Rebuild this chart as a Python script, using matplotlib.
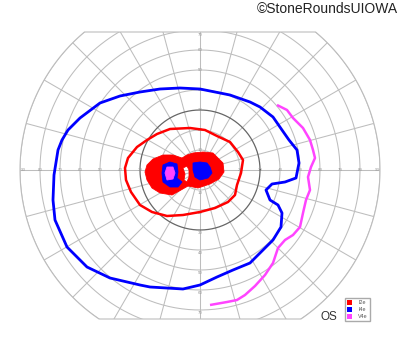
import numpy as np
import matplotlib.pyplot as plt
from matplotlib.patches import Polygon, PathPatch, Patch
from matplotlib.path import Path

plt.rcParams["font.family"] = ["Liberation Sans", "DejaVu Sans"]

# field limits of the chart (degrees)
TOP = 69.0
BOTTOM = -74.5

# I4e isopter (blue), degrees
i4e_x = [0, 15, 25, 30, 36.5, 41, 44.5, 48.5, 49.5, 48, 42.5, 36, 33, 35, 39, 41, 40.5,
         36.5, 30, 25, 16.5, 8.5, 0, -8.5, -25, -30, -45, -56.5, -66.5, -72.5, -73.5,
         -73, -71, -69, -66, -60, -50, -40, -30, -20, -10]
i4e_y = [40.5, 37.5, 34, 31.5, 26.5, 20, 15, 10, 3.5, -4, -6, -7, -10, -15, -17.5, -21.5,
         -28.5, -35, -41.5, -46.5, -50, -53.5, -57.5, -59.5, -58.5, -57.5, -54, -48.5,
         -38.5, -25, -15, -2.5, 10, 15, 20, 26, 33.5, 37, 39, 40.5, 41]

# V4e isopter (magenta), open line
v4e_x = [38.5, 43.5, 46.5, 51.5, 55, 56.5, 57.5, 55.5, 54, 55, 53, 51.5, 50, 46.5, 42.5,
         39, 36.5, 32.5, 27.5, 22.5, 18.5, 13.5, 5]
v4e_y = [32.5, 30, 26, 21, 15, 10, 6, 1.5, -3.5, -10, -15, -21.5, -28.5, -32.5, -35,
         -39, -46.5, -52.5, -58, -62.5, -65, -66, -67.5]

# I2e isopter (red)
i2e_x = [-37.5, -36, -31.5, -26.5, -21.5, -15, -5, 2.5, 8.5, 15, 19, 21.5, 20.5, 18.5,
         17.5, 14, 7.5, 0, -8.5, -16.5, -24, -30, -34.5, -37]
i2e_y = [1, 6, 11.5, 15, 18, 20.5, 21, 20, 17, 14, 9, 5, -1.5, -7.5, -12.5, -16, -19,
         -21, -22.5, -23, -21, -17.5, -11, -5]

# I2e non-seeing area (red fill) with a small seeing island
i2e_area_x = [-27.5, -26.5, -23.5, -18.5, -13.5, -9, -6.5, -3.5, 1.5, 6.5, 9, 11.5, 12,
              9.5, 5, -1, -6, -9.5, -14, -20, -24, -26.5]
i2e_area_y = [-1, 2.5, 5.5, 7.5, 7.5, 6, 7.5, 8.5, 9, 8.5, 6, 3.5, -1, -4.5, -7, -9,
              -8, -10, -12.5, -11.5, -9, -5]
island_x = [-8.5, -6.5, -5.5, -5.5, -6.5, -8, -7.5]
island_y = [1, 2, 0, -3.5, -6, -5, -2]

# I4e non-seeing areas (blue fill)
i4e_left_x = [-18.5, -15, -11.5, -11, -11.5, -9, -11, -15, -18.5, -19]
i4e_left_y = [2.5, 4, 3, -1, -4, -6, -8.5, -8.5, -6, -1.5]
i4e_right_x = [-3.5, 0, 3.5, 5, 6, 4, 0, -2.5, -3.5]
i4e_right_y = [3.5, 4, 3.5, 1.5, -1.5, -4, -5, -3.5, 0]

# V4e non-seeing area (magenta fill)
v4e_area_x = [-16.5, -13.5, -12.5, -13.5, -16.5, -17.5]
v4e_area_y = [1.5, 1.5, -1.5, -4.5, -5, -1.5]

rings = list(range(10, 100, 10))
spokes = list(range(0, 360, 15))
legend_labels = ["I2e", "I4e", "V4e"]

RED = "#ff0000"
BLUE = "#0000ff"
MAGENTA = "#ff44ff"
GRID = "#bdbdbd"


def main() -> None:
    fig = plt.figure(figsize=(4.0, 3.52), dpi=100)
    ax = fig.add_axes([0, 0, 1, 1])
    ax.set_xlim(-100, 100)
    ax.set_ylim(-91, 85)
    ax.set_aspect("equal")
    ax.axis("off")

    # outline of the chart: 90 deg circle cut at top and bottom
    t_top = np.arcsin(TOP / 90)
    t_bot = np.arcsin(BOTTOM / 90)
    a1 = np.linspace(t_bot, t_top, 120)
    a2 = np.linspace(np.pi - t_top, np.pi - t_bot, 120)
    ang = np.concatenate([a1, a2])
    outline = Polygon(np.column_stack([90 * np.cos(ang), 90 * np.sin(ang)]), closed=True,
                      fill=False, ec=GRID, lw=0.8, zorder=1)
    ax.add_patch(outline)

    t = np.linspace(0, 2 * np.pi, 400)
    for r in rings:
        dark = r == 30
        ln, = ax.plot(r * np.cos(t), r * np.sin(t), color="#666666" if dark else GRID,
                      lw=0.9 if dark else 0.75, zorder=1.5 if dark else 1)
        ln.set_clip_path(outline)
    for a in spokes:
        ln, = ax.plot([0, 95 * np.cos(np.radians(a))], [0, 95 * np.sin(np.radians(a))],
                      color=GRID, lw=0.75, zorder=1)
        ln.set_clip_path(outline)

    # degree labels along the axes
    lab = dict(fontsize=3.2, color="#999999", ha="center", va="center", zorder=1.8)
    for r in rings:
        rx = 88.5 if r == 90 else r
        ax.text(rx, 0, str(r), **lab)
        ax.text(-rx, 0, str(r), **lab)
        if r <= 70:
            ax.text(0, min(r, 67.5), str(r), **lab)
            ax.text(0, -r - 1.5, str(r), **lab)

    # red area with its seeing island as a hole
    outer = np.column_stack([i2e_area_x, i2e_area_y])
    hole = np.column_stack([island_x, island_y])[::-1]
    verts = np.concatenate([outer, outer[:1], hole, hole[:1]])
    codes = ([Path.MOVETO] + [Path.LINETO] * (len(outer) - 1) + [Path.CLOSEPOLY]
             + [Path.MOVETO] + [Path.LINETO] * (len(hole) - 1) + [Path.CLOSEPOLY])
    ax.add_patch(PathPatch(Path(verts, codes), fc=RED, ec=RED, lw=0.6, zorder=3))

    ax.fill(i4e_left_x, i4e_left_y, color=BLUE, lw=0.6, zorder=4)
    ax.fill(i4e_right_x, i4e_right_y, color=BLUE, lw=0.6, zorder=4)
    ax.fill(v4e_area_x, v4e_area_y, color=MAGENTA, lw=0.6, zorder=5)

    ax.fill(i2e_x, i2e_y, fill=False, ec=RED, lw=1.8, joinstyle="round", zorder=6)
    ax.fill(i4e_x, i4e_y, fill=False, ec=BLUE, lw=2.0, joinstyle="round", zorder=6)
    ax.plot(v4e_x, v4e_y, color=MAGENTA, lw=1.8, solid_joinstyle="round",
            solid_capstyle="butt", zorder=6)

    handles = [Patch(fc=c, ec="none") for c in (RED, BLUE, MAGENTA)]
    ax.legend(handles, legend_labels, loc="lower left", bbox_to_anchor=(0.862, 0.088),
              fontsize=3.9, handlelength=1.0, handleheight=1.0, handletextpad=1.1,
              labelspacing=0.3, borderpad=0.35, borderaxespad=0, frameon=True,
              fancybox=False, edgecolor="#aaaaaa", framealpha=1)
    for txt in ax.get_legend().get_texts():
        txt.set_color("#555555")

    ax.text(0.8225, 0.099, "OS", transform=ax.transAxes, fontsize=8.5, color="#333333",
            ha="center", va="center")
    fig.text(0.995, 0.975, "©StoneRoundsUIOWA", fontsize=10, color="#222222",
             ha="right", va="center")

    fig.savefig("out.png", dpi=100, facecolor="white")
    plt.close(fig)


if __name__ == "__main__":
    main()
